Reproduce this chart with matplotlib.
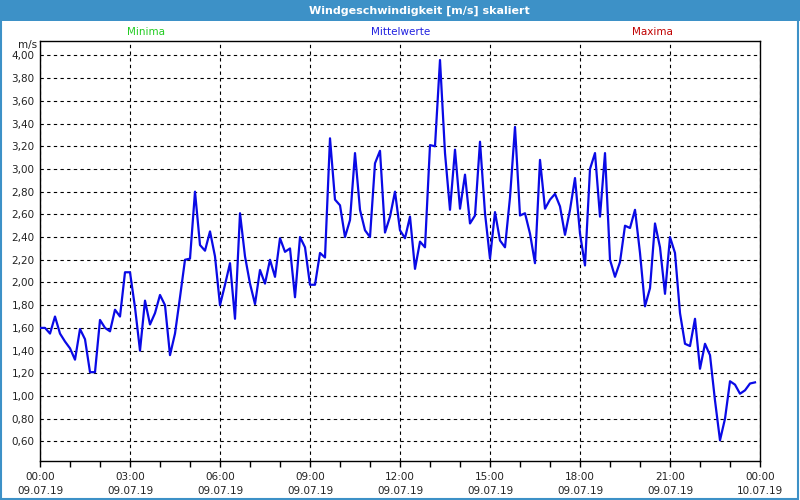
import matplotlib
matplotlib.use("Agg")
import matplotlib.ticker as ticker
from matplotlib import pyplot as plt
from matplotlib.patches import Rectangle

# 10-Minuten-Mittelwerte, 09.07.19 00:00 .. 23:50
wind = [
    1.60, 1.60, 1.55, 1.70, 1.55, 1.48, 1.42, 1.32, 1.59, 1.50, 1.21, 1.21,
    1.67, 1.60, 1.57, 1.76, 1.70, 2.09, 2.09, 1.78, 1.40, 1.84, 1.63, 1.73,
    1.89, 1.80, 1.36, 1.55, 1.87, 2.20, 2.21, 2.80, 2.33, 2.28, 2.45, 2.23,
    1.80, 1.98, 2.17, 1.68, 2.61, 2.23, 1.99, 1.81, 2.11, 1.99, 2.20, 2.05,
    2.39, 2.27, 2.30, 1.87, 2.40, 2.31, 1.98, 1.98, 2.26, 2.22, 3.27, 2.73,
    2.68, 2.40, 2.55, 3.14, 2.64, 2.46, 2.40, 3.05, 3.16, 2.44, 2.58, 2.80,
    2.46, 2.39, 2.58, 2.12, 2.36, 2.31, 3.21, 3.20, 3.96, 3.14, 2.64, 3.17,
    2.65, 2.95, 2.52, 2.59, 3.24, 2.61, 2.21, 2.62, 2.37, 2.31, 2.75, 3.37,
    2.59, 2.61, 2.43, 2.17, 3.08, 2.65, 2.73, 2.78, 2.67, 2.42, 2.64, 2.92,
    2.43, 2.15, 3.00, 3.14, 2.58, 3.14, 2.20, 2.05, 2.18, 2.50, 2.48, 2.64,
    2.26, 1.79, 1.95, 2.52, 2.31, 1.90, 2.40, 2.26, 1.73, 1.46, 1.44, 1.68,
    1.24, 1.46, 1.36, 0.96, 0.61, 0.80, 1.13, 1.10, 1.02, 1.05, 1.11, 1.12,
]
hours = [i / 6 for i in range(len(wind))]

tick_hours = [0, 3, 6, 9, 12, 15, 18, 21, 24]
tick_times = ["00:00", "03:00", "06:00", "09:00", "12:00", "15:00", "18:00", "21:00", "00:00"]
tick_dates = ["09.07.19"] * 8 + ["10.07.19"]

title = "Windgeschwindigkeit [m/s] skaliert"
bar_color = "#3d91c7"

plt.rcParams['font.family'] = ['DejaVu Sans']
fig = plt.figure(figsize=(8, 5), dpi=100)
fig.patch.set_facecolor('white')

# Titelleiste und Rahmen
fig.patches.append(Rectangle((0, 1 - 21 / 500), 1, 21 / 500, transform=fig.transFigure,
                             facecolor=bar_color, edgecolor='none', zorder=0))
fig.patches.append(Rectangle((0.001, 0.002), 0.997, 0.996, transform=fig.transFigure,
                             facecolor='none', edgecolor=bar_color, lw=1.5, zorder=1))
fig.text(0.524, 1 - 10.5 / 500, title, color='white', fontsize=8, fontweight='bold',
         ha='center', va='center')

fig.text(146 / 800, 1 - 32 / 500, "Minima", color='#22cc22', fontsize=7.5, ha='center', va='center')
fig.text(401 / 800, 1 - 32 / 500, "Mittelwerte", color='#2020e0', fontsize=7.5, ha='center', va='center')
fig.text(652 / 800, 1 - 32 / 500, "Maxima", color='#c00000', fontsize=7.5, ha='center', va='center')
fig.text(37 / 800, 1 - 45 / 500, "m/s", color='#222222', fontsize=7.5, ha='right', va='center')

ax = fig.add_axes([40 / 800, 1 - 460.7 / 500, 720 / 800, 420 / 500])
ax.plot(hours, wind, color='#0a0ae6', lw=1.6, zorder=3)

ax.set_xlim(0, 24)
ax.set_ylim(0.43, 4.13)

ax.xaxis.set_major_locator(ticker.FixedLocator(tick_hours))
ax.xaxis.set_minor_locator(ticker.MultipleLocator(1))
ax.set_xticklabels([t + "\n" + d for t, d in zip(tick_times, tick_dates)],
                   fontsize=7.5, linespacing=1.5, color='#222222')
ax.yaxis.set_major_locator(ticker.FixedLocator([round(0.6 + 0.2 * i, 2) for i in range(18)]))
ax.yaxis.set_major_formatter(ticker.FuncFormatter(lambda v, p: f"{v:.2f}".replace(".", ",")))

ax.tick_params(axis='x', which='both', direction='out', length=4, width=1, pad=4)
ax.tick_params(axis='y', which='both', length=0, pad=4, labelsize=7.5, labelcolor='#222222')

ax.grid(which='major', color='black', linestyle=(0, (3, 3)), lw=0.8)
for s in ax.spines.values():
    s.set_color('black')
    s.set_linewidth(1)

plt.savefig('out.png', dpi=100)
